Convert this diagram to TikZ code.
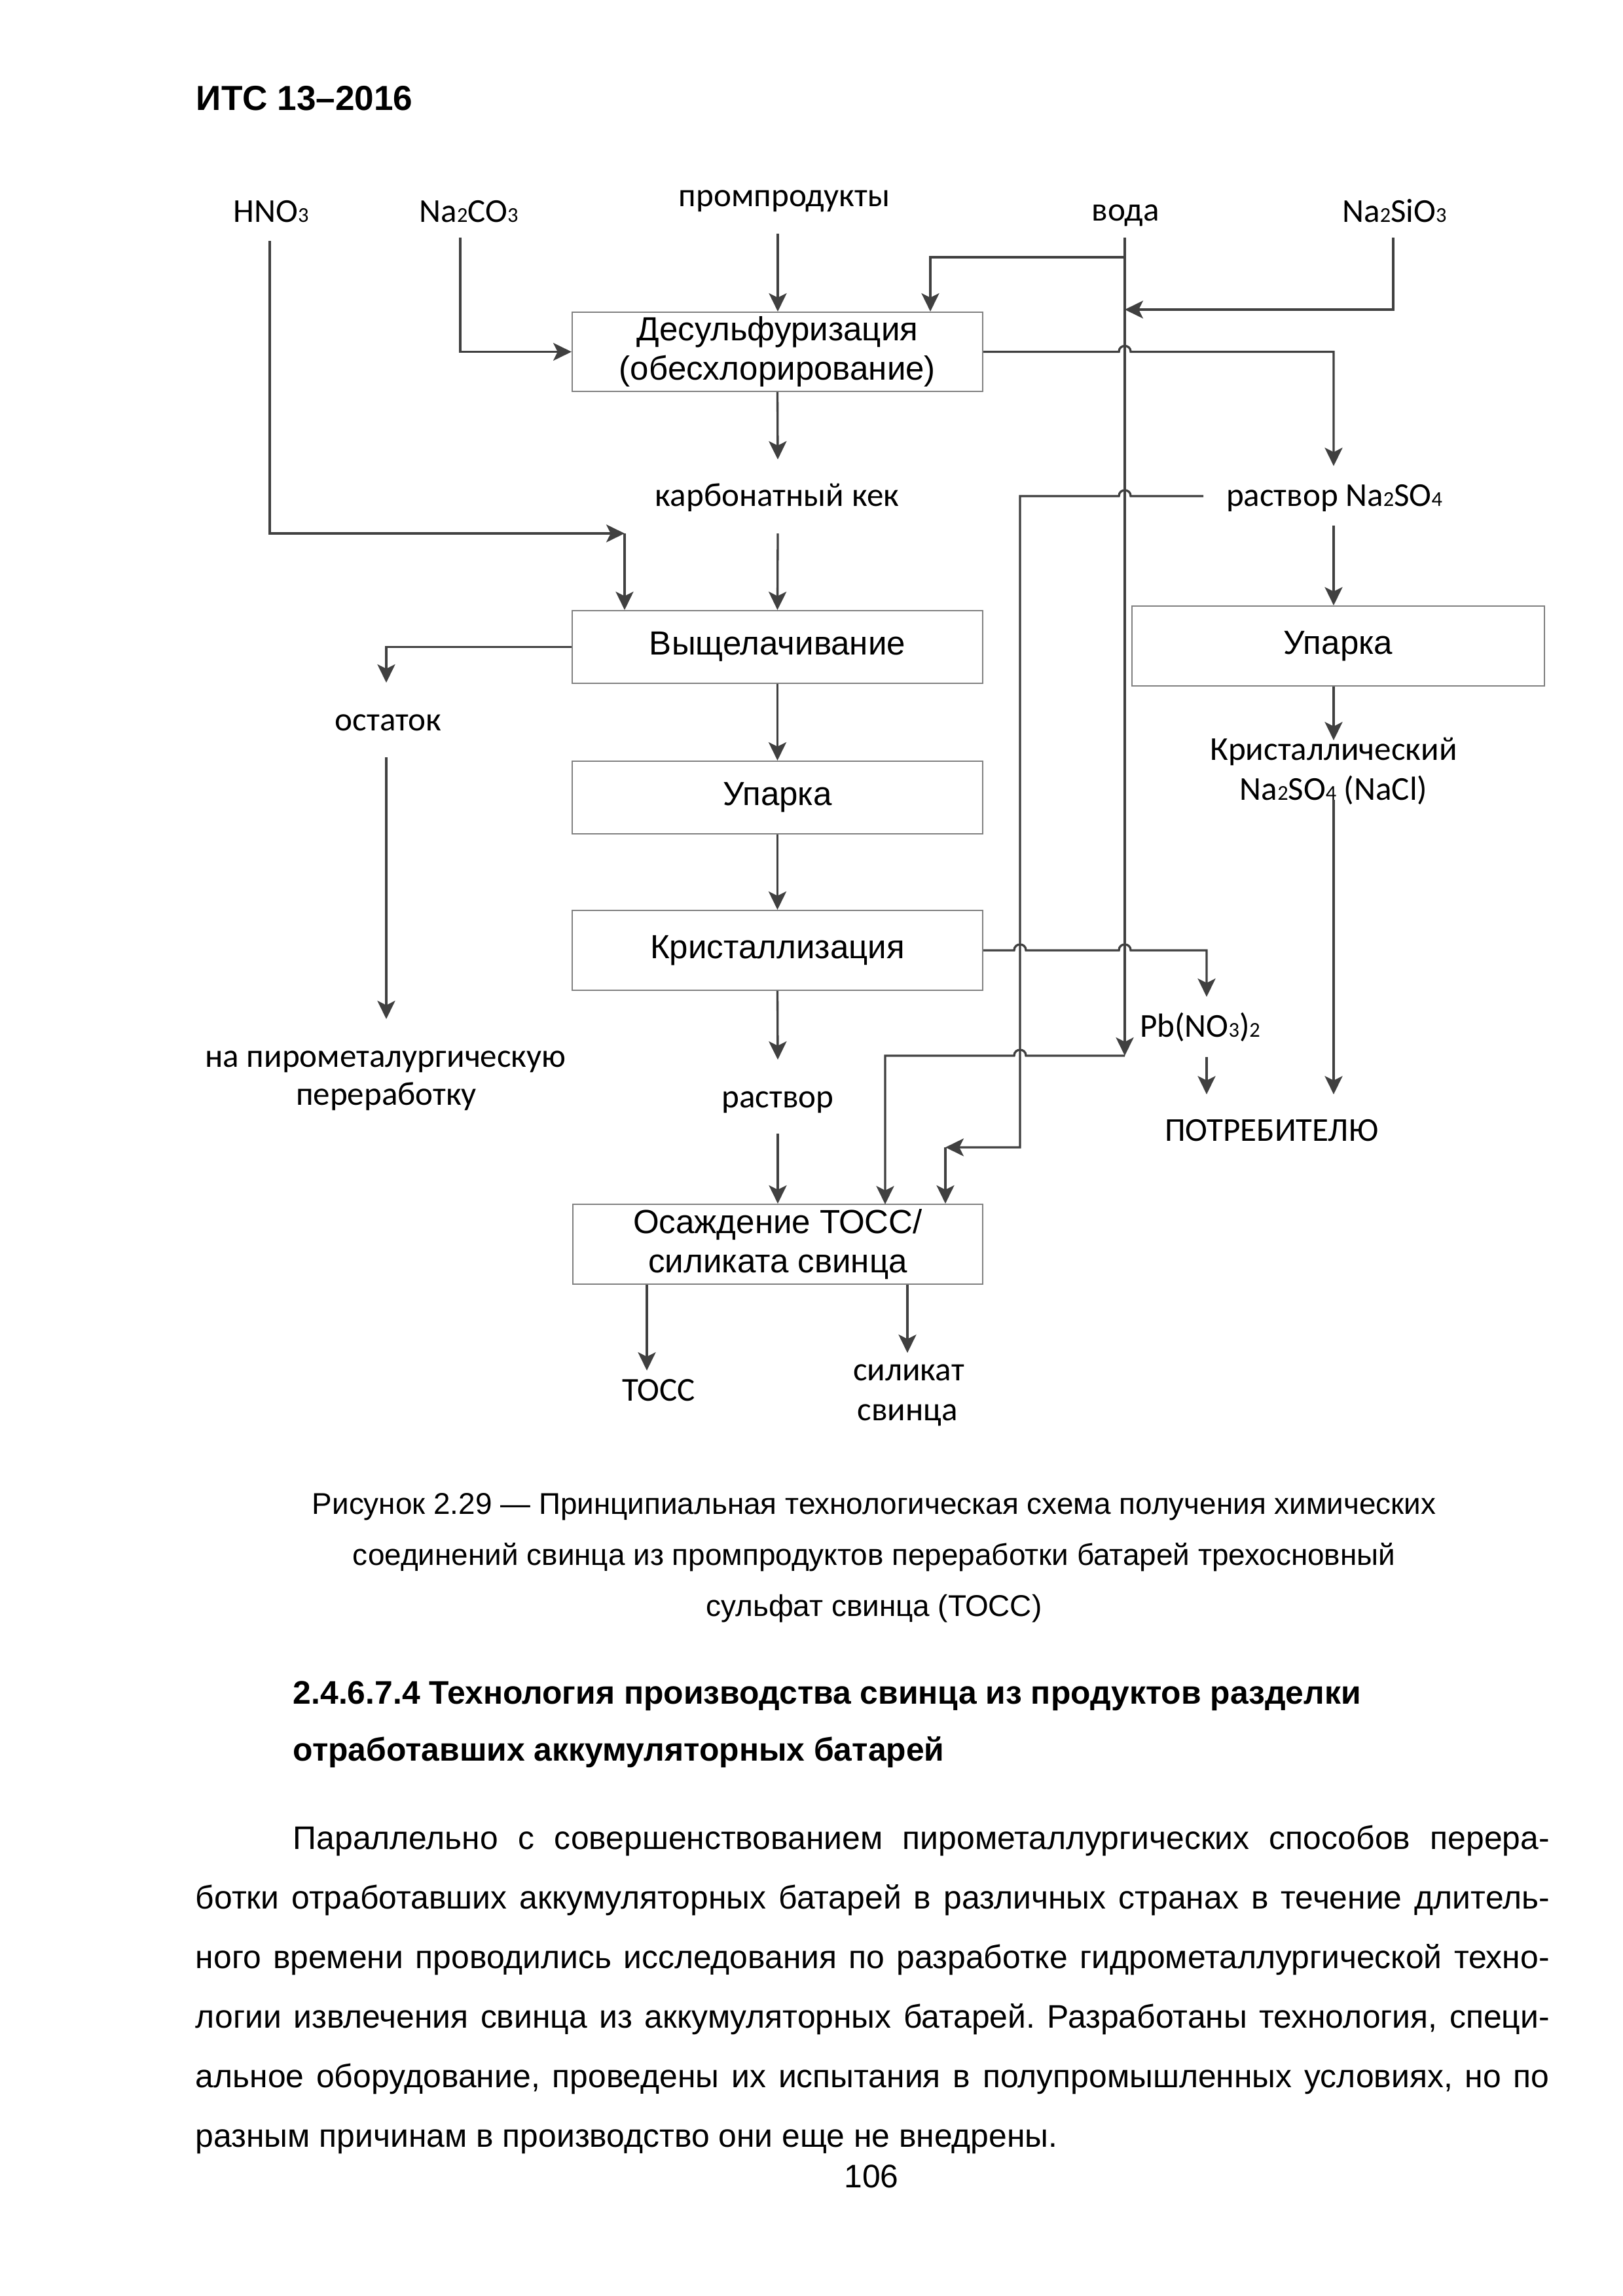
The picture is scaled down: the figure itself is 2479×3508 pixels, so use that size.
\documentclass[tikz,border=0pt]{standalone}
\usepackage{fontspec}
\setmainfont{Liberation Sans}
\newfontfamily\labfont{Carlito}
\usetikzlibrary{arrows.meta}
\definecolor{ln}{RGB}{64,64,64}
\definecolor{bx}{RGB}{128,128,128}
\newcommand\chsub[1]{{\fontsize{7.8}{8}\selectfont #1}}
\frenchspacing
\begin{document}
\begin{tikzpicture}[x=0.0846667mm,y=-0.0846667mm,
  lab/.style={font=\labfont\fontsize{12.3}{14}\selectfont, inner sep=0pt, anchor=base},
  box/.style={draw=bx, line width=0.5pt, font=\fontsize{12.3}{14.4}\selectfont, align=center, inner sep=0pt},
  con/.style={draw=ln, line width=0.8pt},
  arr/.style={con, -{Stealth[length=6.7bp,width=6.5bp,inset=1.6bp]}},
  hopr/.style={insert path={.. controls +(0,-12) and +(0,-12) .. ++(18,0)}},
  hopl/.style={insert path={.. controls +(0,-12) and +(0,-12) .. ++(-18,0)}},
  body/.style={font=\fontsize{12}{14}\selectfont, inner sep=0pt, anchor=base west},
  capt/.style={font=\fontsize{11.05}{13}\selectfont, inner sep=0pt, anchor=base},
]
\fill[white] (0,0) rectangle (2479,3508);
\useasboundingbox (0,0) rectangle (2479,3508);

% header
\node[body, font=\fontsize{12.8}{15}\selectfont\bfseries] (hdr) at (299,168) {ИТС 13–2016};

% boxes
\node[box, minimum width=150.48bp, minimum height=29.04bp] (B1) at (1187.5,537.5) {Десульфуризация\\(обесхлорирование)};
\node[box, minimum width=150.48bp, minimum height=26.64bp] (B2) at (1187.5,988.5) {Выщелачивание};
\node[box, minimum width=150.48bp, minimum height=26.64bp] (B3) at (1187.5,1218.5) {Упарка};
\node[box, minimum width=150.48bp, minimum height=29.28bp] (B4) at (1187.5,1452) {Кристаллизация};
\node[box, minimum width=151.2bp, minimum height=29.28bp] (B5) at (2044,987) {Упарка};
\node[box, minimum width=150.24bp, minimum height=29.28bp] (B6) at (1188,1901) {Осаждение ТОСС/\\силиката свинца};

% labels
\node[lab] (hno) at (414,339) {HNO\chsub{3}};
\node[lab] (nac) at (716,339) {Na\chsub{2}CO\chsub{3}};
\node[lab] (pp) at (1198,315) {промпродукты};
\node[lab] (voda) at (1719,337) {вода};
\node[lab] (nsi) at (2130,339) {Na\chsub{2}SiO\chsub{3}};
\node[lab] (kek) at (1187,773) {карбонатный кек};
\node[lab] (rso) at (2038,773) {раствор Na\chsub{2}SO\chsub{4}};
\node[lab] (ost) at (593,1116) {остаток};
\node[lab] (kr1) at (2037,1161) {Кристаллический};
\node[lab] (kr2) at (2037,1222) {Na\chsub{2}SO\chsub{4} (NaCl)};
\node[lab] (pir1) at (589,1630) {на пирометалургическую};
\node[lab] (pir2) at (590,1688) {переработку};
\node[lab] (pbn) at (1833,1584) {Pb(NO\chsub{3})\chsub{2}};
\node[lab] (rast) at (1188,1692) {раствор};
\node[lab] (potr) at (1942,1743) {ПОТРЕБИТЕЛЮ};
\node[lab] (toss) at (1006,2140) {ТОСС};
\node[lab] (sil1) at (1388,2109) {силикат};
\node[lab] (sil2) at (1386,2170) {свинца};

% coordinates
\coordinate (hno0) at (412,368);
\coordinate (hc) at (954,815);
\coordinate (nac0) at (703,363);
\coordinate (pp0) at (1188,357);
\coordinate (w0) at (1718,363);
\coordinate (w1) at (1718,393);
\coordinate (w2) at (1421,393);
\coordinate (w3) at (1718,473);
\coordinate (wb) at (1718,1613);
\coordinate (ns0) at (2128,363);
\coordinate (k0) at (1188,702);
\coordinate (k1) at (1188,815);
\coordinate (r0) at (2037,712);
\coordinate (r1) at (2037,803);
\coordinate (rl) at (1838,758);
\coordinate (rd) at (1558,1753);
\coordinate (rc) at (1444,1753);
\coordinate (o0) at (590,1043);
\coordinate (o1) at (590,1157);
\coordinate (o2) at (590,1557);
\coordinate (kr0) at (2037,1131);
\coordinate (kr3) at (2037,1222);
\coordinate (kr4) at (2037,1672);
\coordinate (pb0) at (1843,1523);
\coordinate (pb1) at (1843,1615);
\coordinate (pb2) at (1843,1672);
\coordinate (ra0) at (1188,1619);
\coordinate (ra1) at (1188,1732);
\coordinate (t0) at (988,2094);
\coordinate (s0) at (1386,2067);

% connectors
\draw[arr] (hno0) |- (hc);
\draw[arr] (hc) -- (hc |- B2.north);
\draw[arr] (nac0) |- (B1.west);
\draw[arr] (pp0) -- (pp0 |- B1.north);
\draw[arr] (w0) -- (wb);
\draw[arr] (w1) -- (w2) -- (w2 |- B1.north);
\draw[arr] (ns0) |- (w3);
\draw[arr] (B1.east) -- (1709,537.5) [hopr] -- (2037,537.5) -- (r0);
\draw[arr] (r1) -- (r1 |- B5.north);
\draw[arr] (rl) -- (1727,758) [hopl] -- (1558,758) -- (rd) -- (rc);
\draw[arr] (rc) -- (rc |- B6.north);
\draw[arr] (B1.south) -- (k0);
\draw[arr] (k1) -- (B2.north);
\draw[arr] (B2.west) -| (o0);
\draw[arr] (o1) -- (o2);
\draw[arr] (B2.south) -- (B3.north);
\draw[arr] (B3.south) -- (B4.north);
\draw[arr] (B4.east) -- (1549,1452) [hopr] -- (1709,1452) [hopr] -- (1843,1452) -- (pb0);
\draw[arr] (pb1) -- (pb2);
\draw[arr] (B5.south -| kr0) -- (kr0);
\draw[arr] (kr3) -- (kr4);
\draw[arr] (B4.south) -- (ra0);
\draw[arr] (ra1) -- (B6.north);
\draw[arr] (wb) -- (1567,1613) [hopl] -- (1352,1613) -- (1352,1840);
\draw[arr] (B6.south -| t0) -- (t0);
\draw[arr] (B6.south -| s0) -- (s0);

% caption
\node[capt] (c1) at (1335,2313) {Рисунок 2.29 — Принципиальная технологическая схема получения химических};
\node[capt] (c2) at (1335,2391) {соединений свинца из промпродуктов переработки батарей трехосновный};
\node[capt] (c3) at (1335,2469) {сульфат свинца (ТОСС)};

% heading
\node[body, font=\fontsize{12}{14}\selectfont\bfseries] (h1) at (447,2603) {2.4.6.7.4 Технология производства свинца из продуктов разделки};
\node[body, font=\fontsize{12}{14}\selectfont\bfseries] (h2) at (447,2690) {отработавших аккумуляторных батарей};

% body
\node[body] (p1) at (447,2825) {\makebox[460.6bp][s]{Параллельно с совершенствованием пирометаллургических способов перера-}};
\node[body] (p2) at (298,2916) {\makebox[496.3bp][s]{ботки отработавших аккумуляторных батарей в различных странах в течение длитель-}};
\node[body] (p3) at (298,3007) {\makebox[496.3bp][s]{ного времени проводились исследования по разработке гидрометаллургической техно-}};
\node[body] (p4) at (298,3098) {\makebox[496.3bp][s]{логии извлечения свинца из аккумуляторных батарей. Разработаны технология, специ-}};
\node[body] (p5) at (298,3189) {\makebox[496.3bp][s]{альное оборудование, проведены их испытания в полупромышленных условиях, но по}};
\node[body] (p6) at (298,3280) {разным причинам в производство они еще не внедрены.};
\node[capt, font=\fontsize{12}{14}\selectfont] (pn) at (1331,3342) {106};
\end{tikzpicture}
\end{document}
